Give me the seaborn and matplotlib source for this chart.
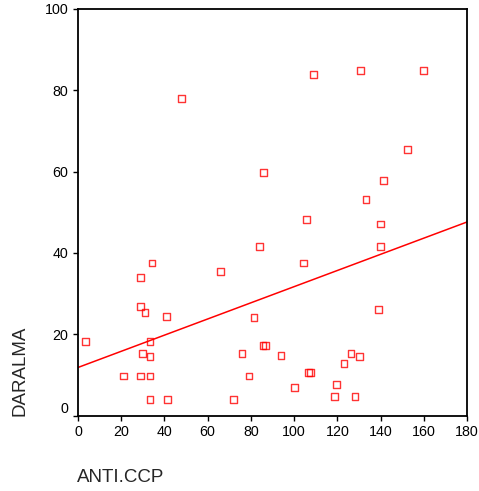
import matplotlib
matplotlib.use("Agg")
import matplotlib.pyplot as plt
import matplotlib.transforms as mtransforms
import seaborn as sns
import pandas as pd

anti_ccp = [3.6, 47.8, 85.9, 108.9, 130.6, 160.0, 152.4, 141.3, 133.3, 105.8,
            140.1, 83.9, 65.9, 104.4, 81.4, 85.6, 86.6, 75.9, 93.9, 79.1,
            72.0, 100.1, 106.6, 107.7, 119.5, 118.8, 128.2, 123.1, 126.3, 130.2,
            139.0, 140.1, 34.2, 29.0, 29.0, 31.0, 40.9, 33.3, 29.8, 33.3,
            21.0, 29.0, 33.3, 33.3, 41.5]
daralma = [18.3, 77.9, 59.7, 83.8, 84.9, 84.9, 65.4, 57.8, 53.1, 48.2,
           47.1, 41.5, 35.5, 37.5, 24.2, 17.3, 17.3, 15.3, 14.7, 9.7,
           4.0, 6.8, 10.6, 10.6, 7.7, 4.7, 4.7, 12.7, 15.3, 14.6,
           26.0, 41.5, 37.5, 33.9, 26.9, 25.3, 24.3, 18.3, 15.3, 14.6,
           9.7, 9.7, 9.7, 4.0, 4.0]
x_ticks = [0, 20, 40, 60, 80, 100, 120, 140, 160, 180]
y_ticks = [0, 20, 40, 60, 80, 100]

df = pd.DataFrame({"ANTI.CCP": anti_ccp, "DARALMA": daralma})

sns.set_style("ticks")
plt.rcParams["font.family"] = ["Liberation Sans", "DejaVu Sans"]

fig = plt.figure(figsize=(4.79, 4.91), dpi=100)
ax = fig.add_axes([78 / 479, 1 - 415.5 / 491, 389 / 479, 406.5 / 491])
ax.set_xlim(0, 180)
ax.set_ylim(0, 100)

sns.regplot(data=df, x="ANTI.CCP", y="DARALMA", ax=ax, ci=None, truncate=False,
            marker="s",
            scatter_kws=dict(facecolors="none", edgecolors="#ff0000", s=24, linewidths=1.0),
            line_kws=dict(color="#ff0000", lw=1.1))

ax.set_xlim(0, 180)
ax.set_ylim(0, 100)
ax.set_xticks(x_ticks)
ax.set_yticks(y_ticks)
ax.tick_params(axis="both", labelsize=10.3, length=3.6, width=1, colors="black", pad=3.5)
for s in ax.spines.values():
    s.set_visible(True)
    s.set_color("black")
    s.set_linewidth(1.3)

ax.set_xlabel("ANTI.CCP", fontsize=13.5, loc="left")
ax.set_ylabel("DARALMA", fontsize=13.5, loc="bottom")
ax.xaxis.label.set_va("center")
ax.xaxis.label.set_ha("left")
ax.xaxis.set_label_coords(-0.003, -(477 - 415.5) / 406.5)
ax.yaxis.label.set_va("center")
ax.yaxis.set_label_coords((19.5 - 78) / 389, 0.0)

# raise the "0" y tick label slightly as in the reference
lab = ax.get_yticklabels()[0]
lab.set_transform(lab.get_transform() + mtransforms.ScaledTranslation(0, 8 / 100, fig.dpi_scale_trans))

fig.savefig("out.png", dpi=100)
